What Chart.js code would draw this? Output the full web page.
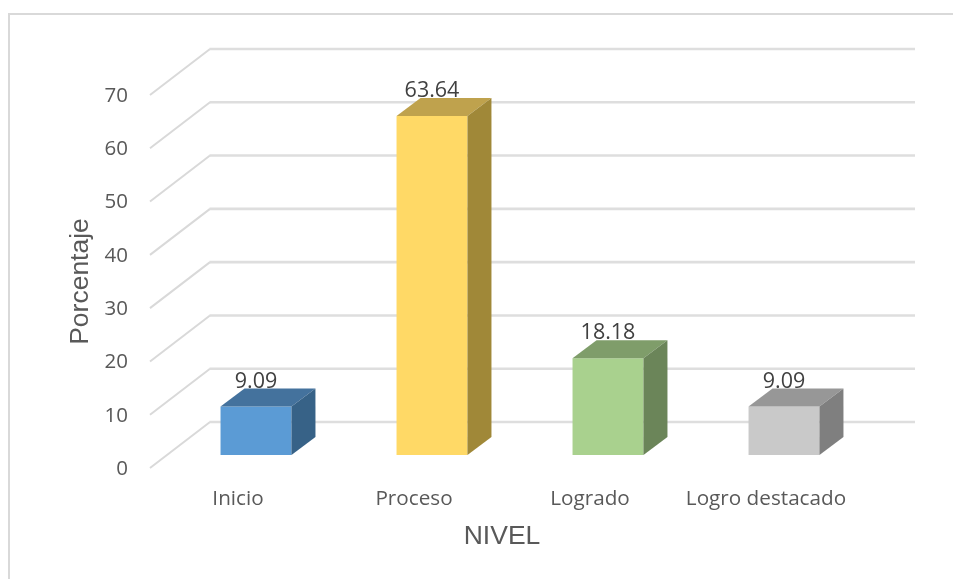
<!DOCTYPE html>
<html>
<head>
<meta charset="utf-8">
<title>Nivel</title>
<script src="https://cdn.jsdelivr.net/npm/chart.js@4"></script>
<style>
    html, body { margin: 0; padding: 0; background: #fff; overflow: hidden; }
    #frame { position: absolute; left: 8px; top: 13px; width: 945px; height: 566px; border-left: 2px solid #d9d9d9; border-top: 2px solid #d9d9d9; }
    #chart { position: absolute; left: 0; top: 0; }
</style>
</head>
<body>
<div id="frame"></div>
<canvas id="chart" width="953" height="579"></canvas>
<script>
// Datos
const categories = ['Inicio', 'Proceso', 'Logrado', 'Logro destacado'];
const percentages = [9.09, 63.64, 18.18, 9.09];
const yTicks = [0, 10, 20, 30, 40, 50, 60, 70];

const frontColors = ['#5b9bd5', '#ffd966', '#a9d18e', '#c9c9c9'];
const topColors = ['#44729d', '#bfa24d', '#7f9d6a', '#979797'];
const sideColors = ['#376287', '#a08838', '#6b8559', '#7f7f7f'];

// Perspectiva del grafico 3D
const wallX = 60, wallY = 46;    // plano frontal -> pared del fondo
const barX = 18, barY = 13;      // plano frontal -> cara frontal de la barra
const depthX = 24, depthY = 18;  // profundidad de la barra

const gridPlugin = {
    id: 'grid3d',
    beforeDatasetsDraw(chart) {
        const { ctx, scales } = chart;
        const left = scales.x.left, right = scales.x.right;
        ctx.save();
        yTicks.forEach(function(v) {
            const y = scales.y.getPixelForValue(v);
            ctx.strokeStyle = '#d9d9d9';
            ctx.lineWidth = 2;
            ctx.beginPath();
            ctx.moveTo(left, y);
            ctx.lineTo(left + wallX, y - wallY);
            ctx.stroke();
            ctx.strokeStyle = '#dedede';
            ctx.lineWidth = 2.6;
            ctx.beginPath();
            ctx.moveTo(left + wallX - 0.5, y - wallY);
            ctx.lineTo(right + wallX + 1, y - wallY);
            ctx.stroke();
        });
        ctx.restore();
        // las barras se apoyan en medio del piso
        ctx.save();
        ctx.translate(barX, -barY);
    },
    afterDatasetsDraw(chart) {
        const { ctx } = chart;
        ctx.restore();
        const bars = chart.getDatasetMeta(0).data;
        bars.forEach(function(bar, i) {
            const l = bar.x - bar.width / 2 + barX;
            const r = bar.x + bar.width / 2 + barX;
            const t = bar.y - barY;
            const b = bar.base - barY;

            ctx.fillStyle = topColors[i];
            ctx.beginPath();
            ctx.moveTo(l, t);
            ctx.lineTo(l + depthX, t - depthY);
            ctx.lineTo(r + depthX, t - depthY);
            ctx.lineTo(r, t);
            ctx.closePath();
            ctx.fill();

            ctx.fillStyle = sideColors[i];
            ctx.beginPath();
            ctx.moveTo(r, t);
            ctx.lineTo(r + depthX, t - depthY);
            ctx.lineTo(r + depthX, b - depthY);
            ctx.lineTo(r, b);
            ctx.closePath();
            ctx.fill();

            ctx.fillStyle = '#404040';
            ctx.font = '21.5px "Open Sans"';
            ctx.textAlign = 'center';
            ctx.textBaseline = 'alphabetic';
            ctx.fillText(percentages[i].toFixed(2), bar.x + barX, t - 19);
        });
    }
};

new Chart(document.getElementById('chart'), {
    type: 'bar',
    data: {
        labels: categories,
        datasets: [{
            data: percentages,
            backgroundColor: frontColors,
            barPercentage: 0.403,
            categoryPercentage: 1,
            clip: false
        }]
    },
    options: {
        responsive: false,
        animation: false,
        layout: { padding: { top: 95, right: 99, bottom: 0, left: 0 } },
        plugins: { legend: { display: false }, tooltip: { enabled: false } },
        scales: {
            x: {
                grid: { display: false },
                border: { display: false },
                afterFit(scale) { scale.height = 111; },
                ticks: {
                    color: '#595959',
                    font: { family: '"Open Sans"', size: 20.7 },
                    padding: 11,
                    maxRotation: 0,
                    autoSkip: false
                },
                title: {
                    display: true,
                    text: 'NIVEL',
                    color: '#595959',
                    font: { family: '"Liberation Sans"', size: 26.5, weight: 'normal' },
                    padding: { top: 0, bottom: 26 }
                }
            },
            y: {
                min: 0,
                max: 70,
                grid: { display: false },
                border: { display: false },
                afterFit(scale) { scale.width = 150; },
                afterBuildTicks(scale) { scale.ticks = yTicks.map(function(v) { return { value: v }; }); },
                ticks: {
                    color: '#595959',
                    font: { family: '"Open Sans"', size: 20.5 },
                    padding: 14,
                    labelOffset: 1
                },
                title: {
                    display: true,
                    text: 'Porcentaje',
                    color: '#595959',
                    font: { family: '"Liberation Sans"', size: 26.5, weight: 'normal' },
                    padding: { top: 65, bottom: 0 }
                }
            }
        }
    },
    plugins: [gridPlugin]
});
</script>
</body>
</html>
